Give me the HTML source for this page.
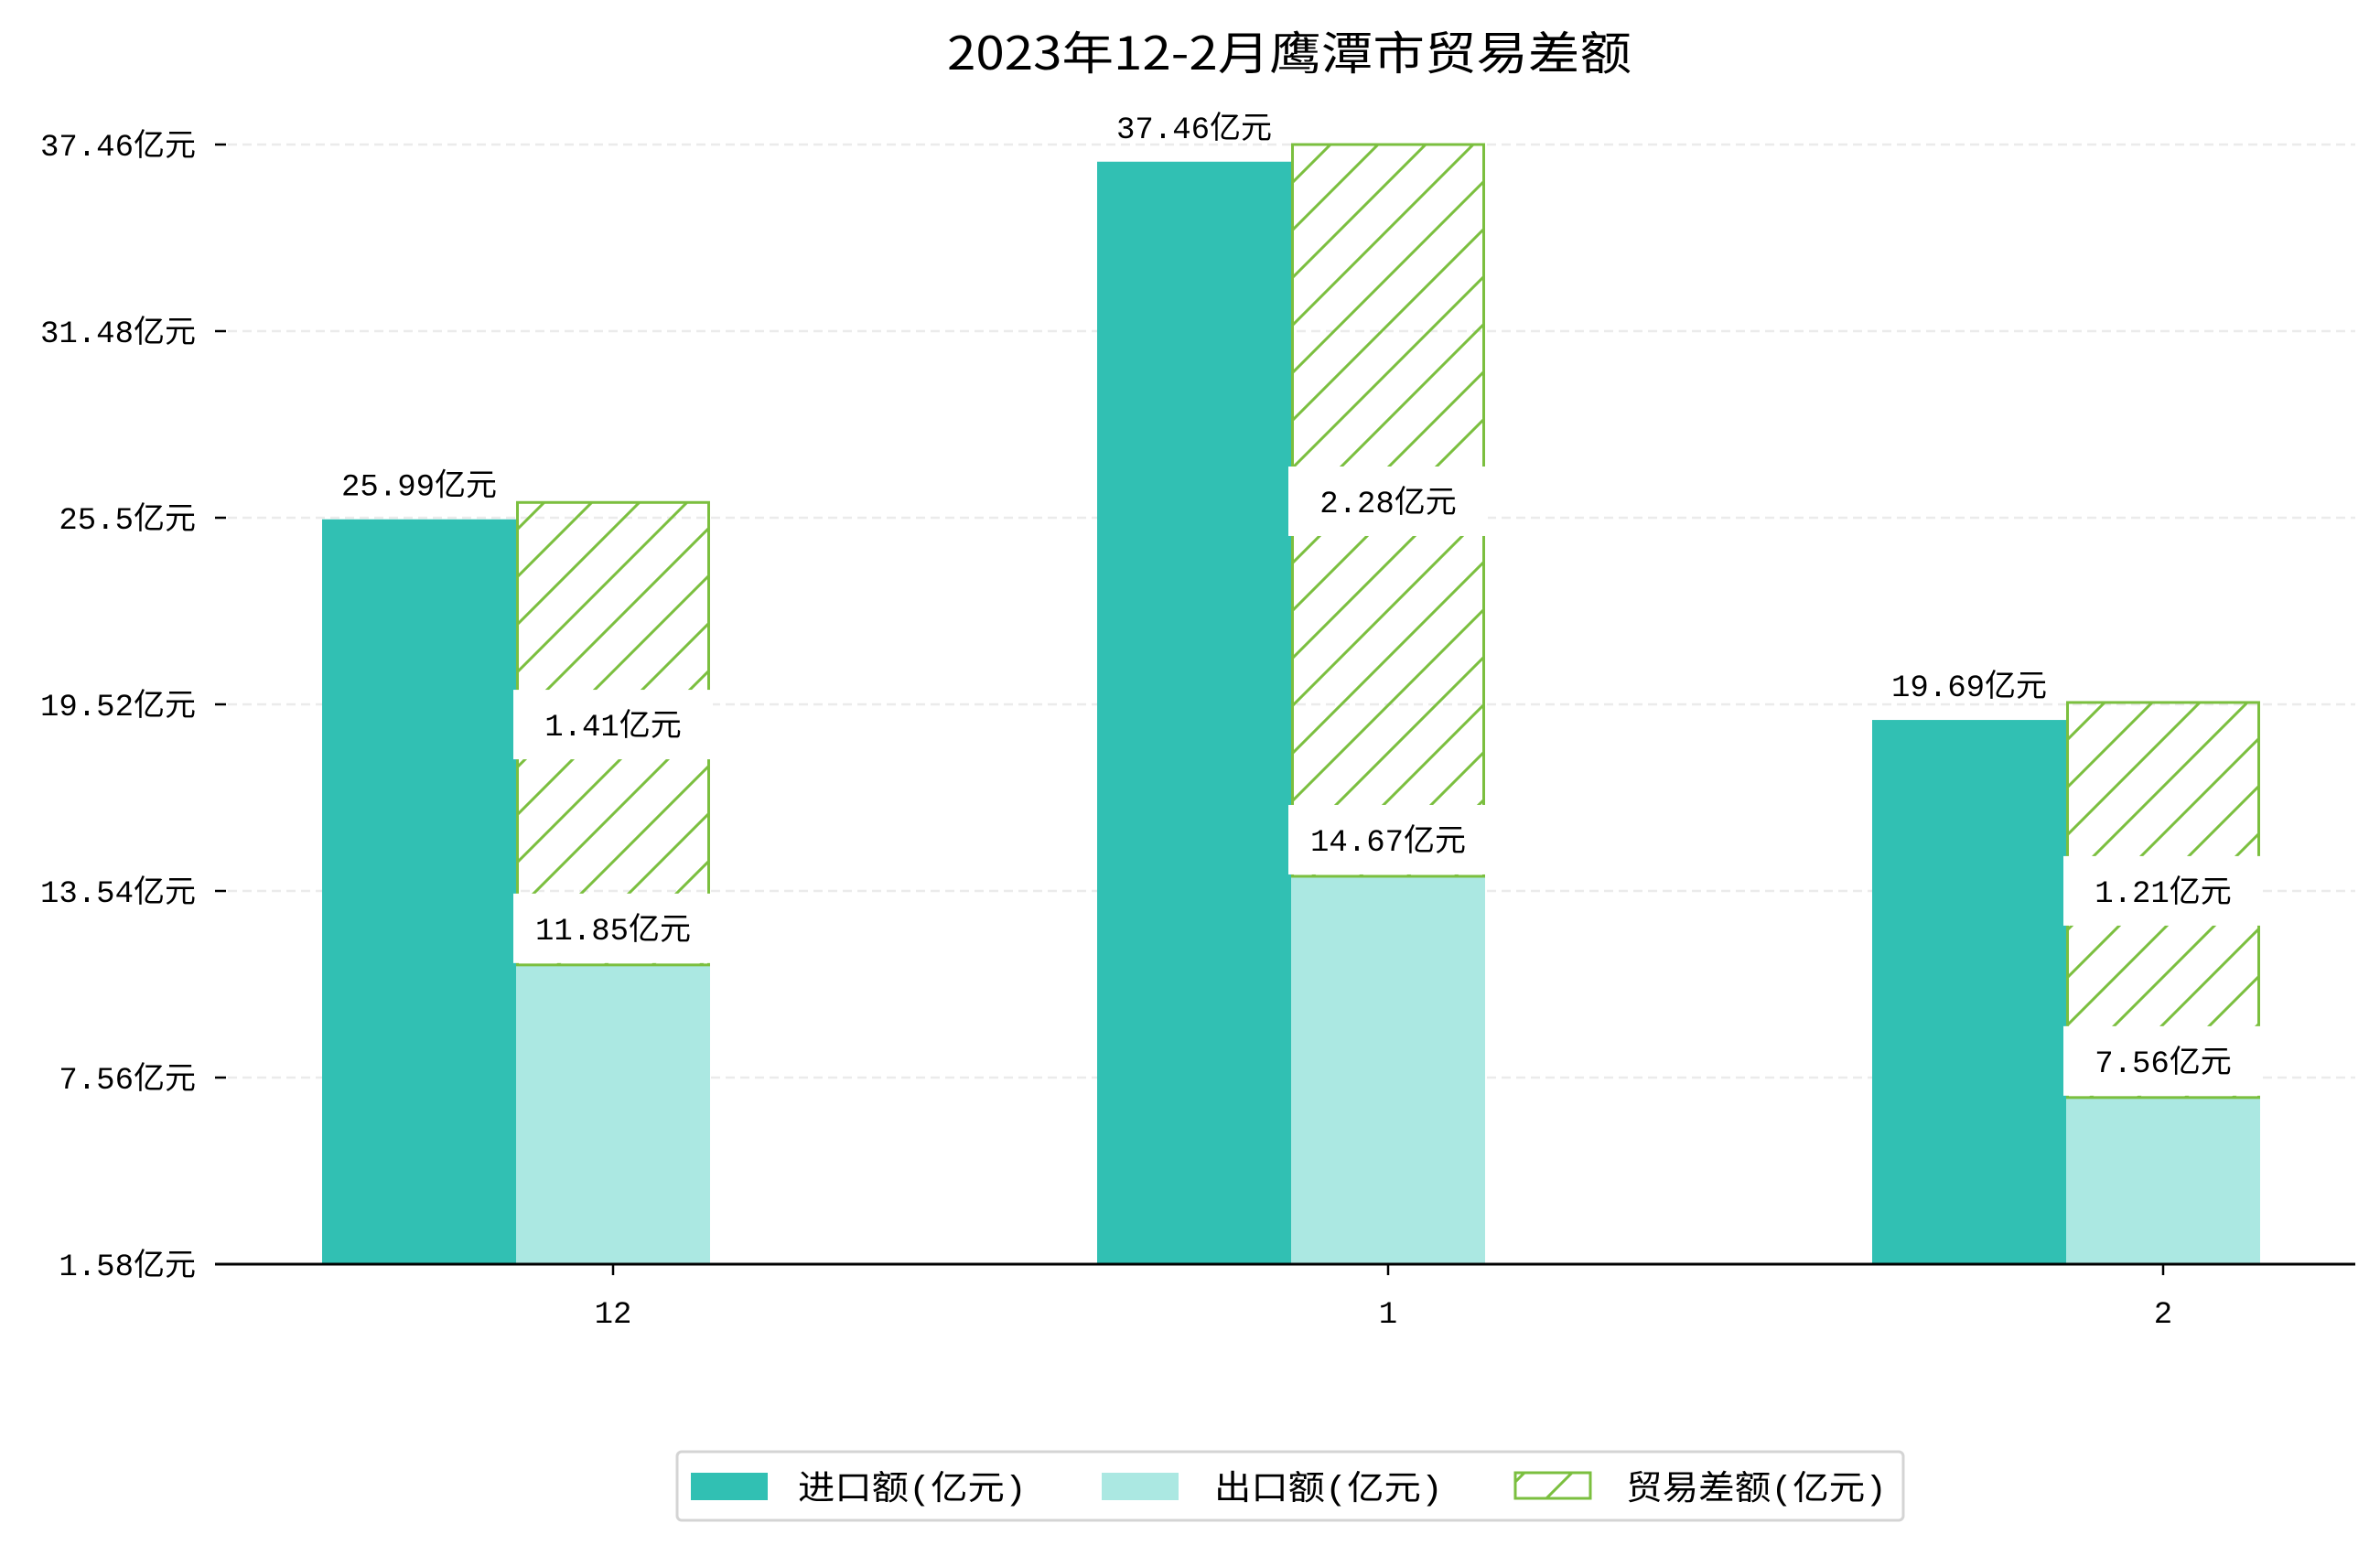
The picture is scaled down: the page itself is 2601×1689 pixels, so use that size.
<!DOCTYPE html>
<html><head><meta charset="utf-8"><style>
html,body{margin:0;padding:0;background:#fff;}
svg{display:block;}
text{font-family:"Liberation Mono","Noto Sans CJK SC",monospace;fill:#000;}
</style></head><body>
<svg id="chart" width="2601" height="1689" viewBox="0 0 2601 1689" xmlns="http://www.w3.org/2000/svg">
<defs>
<pattern id="hatch" patternUnits="userSpaceOnUse" width="52" height="52">
<path d="M-10,10 L10,-10 M0,52 L52,0 M42,62 L62,42" stroke="#7bbf3f" stroke-width="3"/>
</pattern>
</defs>
<text x="1035" y="76" font-size="50" textLength="748" lengthAdjust="spacingAndGlyphs" style="font-family:'Noto Sans CJK SC','Liberation Sans',sans-serif">2023年12-2月鹰潭市贸易差额</text>
<g id="grid"></g><g id="bars"></g><g id="labels"></g><g id="axes"></g>
<g>
<rect x="740" y="1587" width="1340" height="75" rx="5" fill="#fff" stroke="#d4d4d4" stroke-width="3"/>
<rect x="755" y="1610" width="84" height="30" fill="#31c0b3"/>
<text x="872" y="1639" font-size="37" textLength="250" lengthAdjust="spacingAndGlyphs">进口额(亿元)</text>
<rect x="1204" y="1610" width="84" height="30" fill="#abe8e2"/>
<text x="1327" y="1639" font-size="37" textLength="250" lengthAdjust="spacingAndGlyphs">出口额(亿元)</text>
<rect x="1656" y="1610" width="82" height="28" fill="url(#hatch)" stroke="#7bbf3f" stroke-width="3"/>
<text x="1777" y="1639" font-size="37" textLength="285" lengthAdjust="spacingAndGlyphs">贸易差额(亿元)</text>
</g>
</svg>
<script>
const categories = ["12", "1", "2"];
const importValues = [25.45, 36.91, 19.02];
const exportValues = [11.17, 14.01, 6.92];
const balanceTop = [25.99, 37.46, 19.58];
const importLabels = ["25.99亿元", "37.46亿元", "19.69亿元"];
const exportLabels = ["11.85亿元", "14.67亿元", "7.56亿元"];
const balanceLabels = ["1.41亿元", "2.28亿元", "1.21亿元"];
const yTicks = [1.58, 7.56, 13.54, 19.52, 25.5, 31.48, 37.46];
const yTickLabels = ["1.58亿元", "7.56亿元", "13.54亿元", "19.52亿元", "25.5亿元", "31.48亿元", "37.46亿元"];

const NS = "http://www.w3.org/2000/svg";
const Y0 = 1382, PX = 204 / 5.98, VMIN = 1.58;
function y(v){ return Y0 - (v - VMIN) * PX; }
function xc(i){ return 670 + i * 847; }
const BW = 212;
function mk(tag, attrs, parent){ const e = document.createElementNS(NS, tag); for (const k in attrs) e.setAttribute(k, attrs[k]); parent.appendChild(e); return e; }
const grid = document.getElementById('grid'), bars = document.getElementById('bars'), labels = document.getElementById('labels'), axes = document.getElementById('axes');

yTicks.forEach((v, i) => {
  if (i > 0) {
    const g = mk('line', {x1:249, x2:2574, y1:y(v), y2:y(v), stroke:'#ebebeb', 'stroke-width':2.5, 'stroke-dasharray':'10,6'}, grid);
    
    
  }
  const t = mk('line', {x1:235, x2:247, y1:y(v), y2:y(v), stroke:'#000', 'stroke-width':2.5}, axes);
  
  
  const lab = yTickLabels[i];
  const tx = mk('text', {x:214, y:y(v) + 12, 'font-size':34, 'text-anchor':'end'}, axes);
  tx.textContent = lab;
  
  
});

const base = mk('line', {x1:235, x2:2574, y1:Y0, y2:Y0, stroke:'#000', 'stroke-width':3}, axes);



function labelBox(cx, cy, txt, name){
  const r = mk('rect', {x:cx - 109, y:cy - 38, width:218, height:76, fill:'#fff'}, labels);
  
  
  const t = mk('text', {x:cx, y:cy + 12, 'font-size':34, 'text-anchor':'middle'}, labels);
  t.textContent = txt;
  
  
}

categories.forEach((c, i) => {
  const cx = xc(i);
  const ib = mk('rect', {x:cx - 106 - BW, y:y(importValues[i]), width:BW, height:Y0 - y(importValues[i]), fill:'#31c0b3'}, bars);
  
  
  const eb = mk('rect', {x:cx - 106, y:y(exportValues[i]), width:BW, height:Y0 - y(exportValues[i]), fill:'#abe8e2'}, bars);
  
  
  const hb = mk('rect', {x:cx - 106 + 1.5, y:y(balanceTop[i]), width:BW - 3, height:y(exportValues[i]) - y(balanceTop[i]), fill:'url(#hatch)', stroke:'#7bbf3f', 'stroke-width':3}, bars);
  
  

  const it = mk('text', {x:cx - 106 - BW / 2, y:y(importValues[i]) - 26, 'font-size':34, 'text-anchor':'middle'}, labels);
  it.textContent = importLabels[i];
  
  

  const midH = (y(balanceTop[i]) + y(exportValues[i])) / 2 - 10;
  labelBox(cx, midH, balanceLabels[i], 'balance-value-label');
  labelBox(cx, y(exportValues[i]) - 40, exportLabels[i], 'export-value-label');

  const tk = mk('line', {x1:cx, x2:cx, y1:Y0, y2:Y0 + 12, stroke:'#000', 'stroke-width':2.5}, axes);
  
  
  const xl = mk('text', {x:cx, y:1446, 'font-size':34, 'text-anchor':'middle'}, axes);
  xl.textContent = c;
  
  
});
</script>
</body></html>
